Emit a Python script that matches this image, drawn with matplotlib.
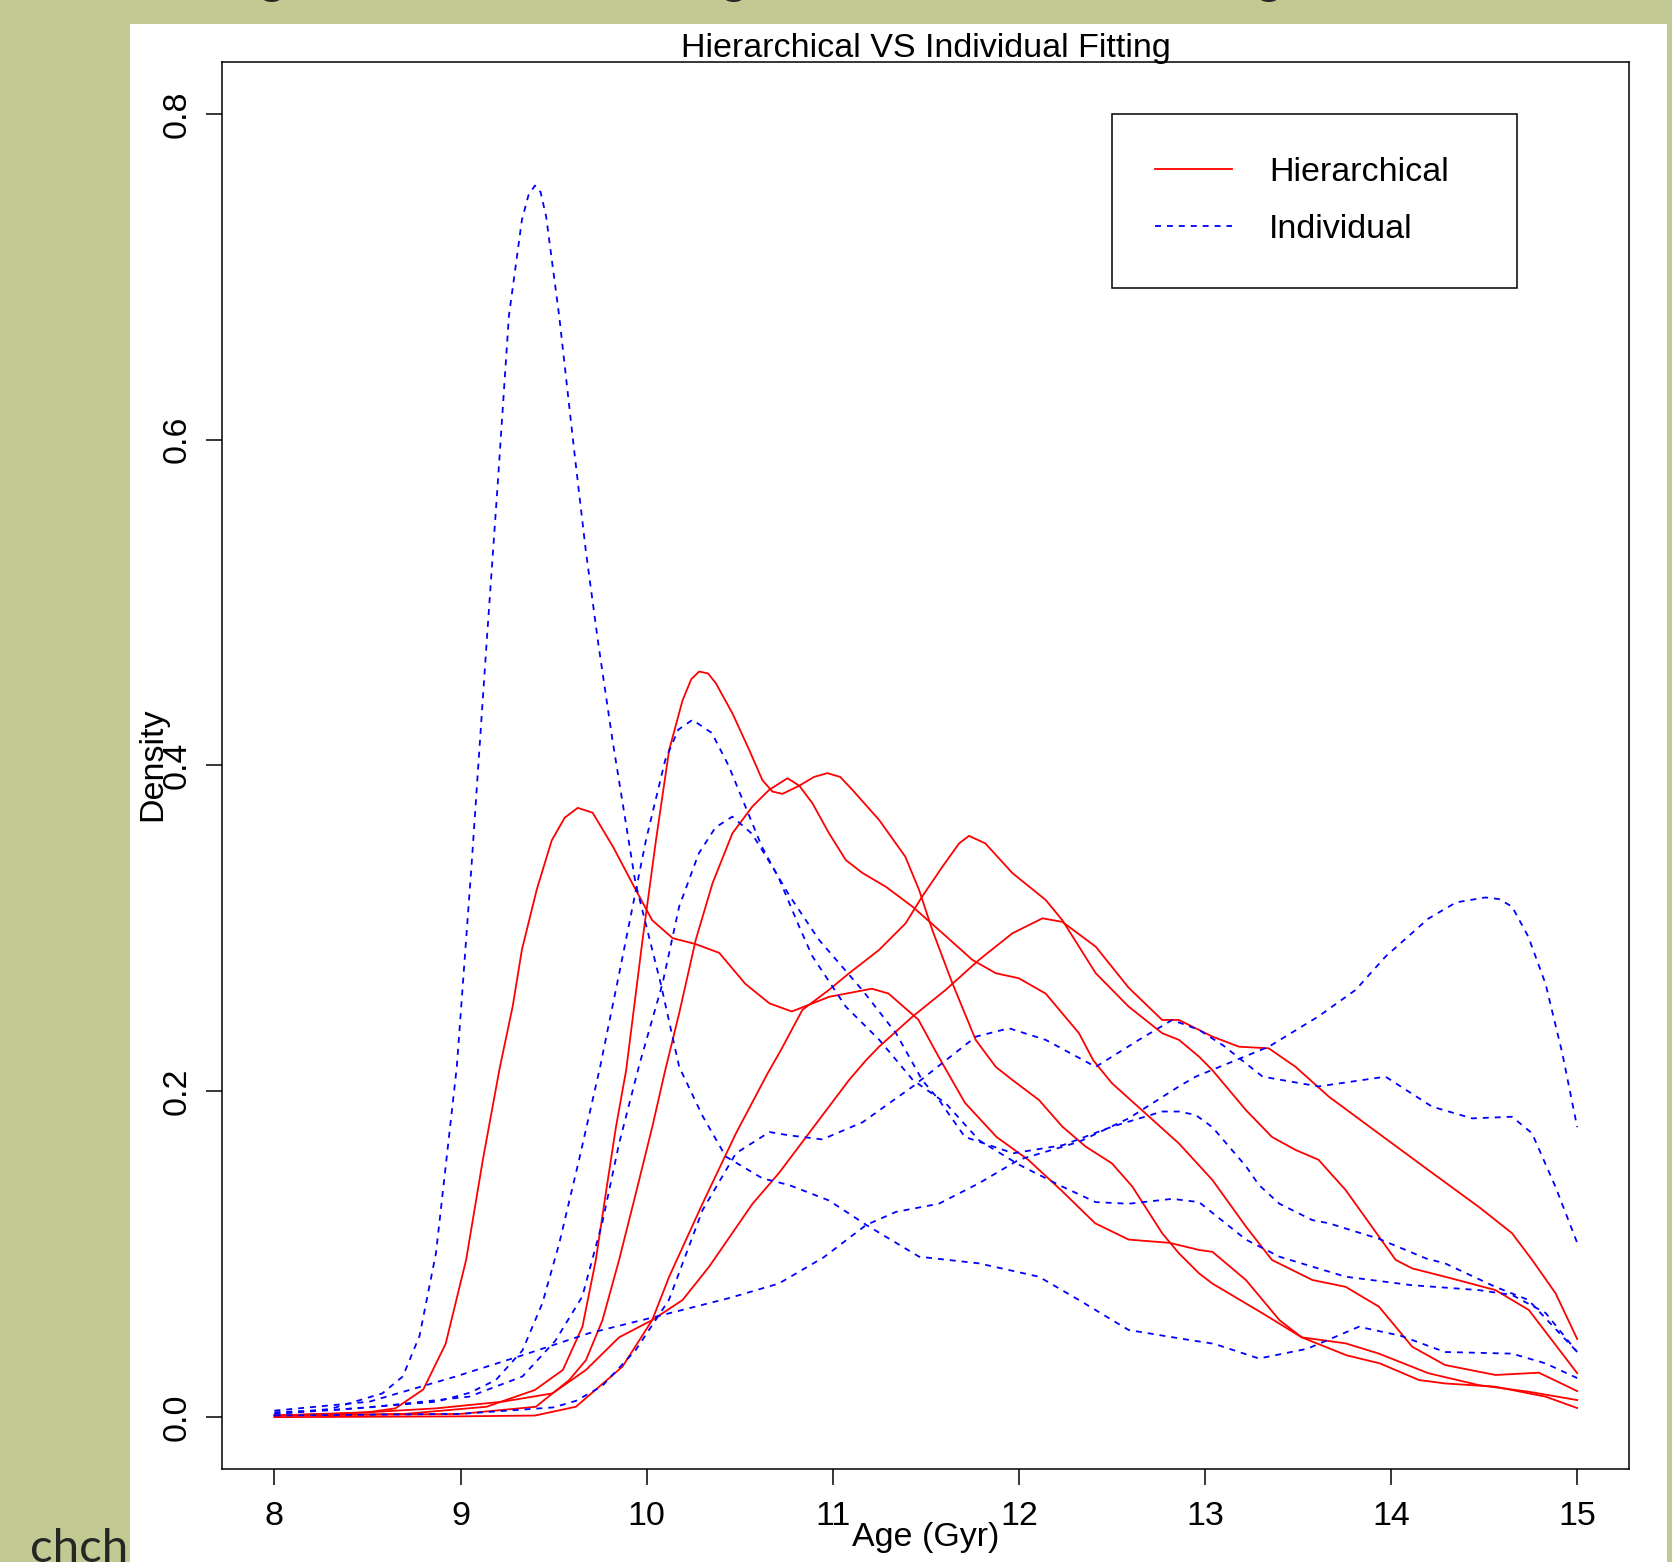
import matplotlib
matplotlib.use("Agg")
import matplotlib.pyplot as plt
from matplotlib.patches import Rectangle
from matplotlib.lines import Line2D

plt.rcParams["font.family"] = ["Liberation Sans", "DejaVu Sans"]

# Hierarchical fits (solid red)
h1_x = [8.0, 8.33, 8.5, 8.65, 8.8, 8.92, 9.03, 9.12, 9.21, 9.28, 9.33, 9.41, 9.49, 9.56, 9.63, 9.71, 9.82, 9.94,
        10.03, 10.14, 10.26, 10.39, 10.53, 10.66, 10.78, 10.98, 11.21, 11.30, 11.46, 11.57, 11.71, 11.88, 12.05,
        12.23, 12.41, 12.59, 12.81, 12.97, 13.04, 13.22, 13.40, 13.52, 13.76, 13.94, 14.15, 14.29, 14.56, 14.83, 15.0]
h1_y = [0.001, 0.002, 0.003, 0.0054, 0.017, 0.045, 0.0965, 0.158, 0.214, 0.252, 0.287, 0.324, 0.354, 0.368, 0.374,
        0.371, 0.350, 0.324, 0.305, 0.294, 0.2905, 0.285, 0.266, 0.254, 0.249, 0.258, 0.263, 0.260, 0.244, 0.221,
        0.193, 0.172, 0.158, 0.139, 0.119, 0.109, 0.107, 0.1026, 0.1015, 0.0842, 0.0596, 0.049, 0.038, 0.033,
        0.0228, 0.0207, 0.0187, 0.0126, 0.0056]

h2_x = [8.0, 8.7, 9.14, 9.40, 9.55, 9.655, 9.727, 9.78, 9.835, 9.89, 9.978, 10.05, 10.121, 10.193, 10.24, 10.282,
        10.33, 10.372, 10.461, 10.551, 10.622, 10.676, 10.73, 10.82, 10.90, 10.971, 11.04, 11.106, 11.249, 11.39,
        11.464, 11.535, 11.643, 11.768, 11.876, 11.965, 12.108, 12.234, 12.36, 12.50, 12.61, 12.77, 12.86, 12.968,
        13.04, 13.31, 13.52, 13.756, 13.935, 14.20, 14.47, 14.74, 15.0]
h2_y = [0.001, 0.002, 0.0064, 0.0167, 0.029, 0.0555, 0.0965, 0.137, 0.178, 0.213, 0.293, 0.354, 0.4095, 0.440,
        0.453, 0.4577, 0.4565, 0.4505, 0.432, 0.4096, 0.391, 0.384, 0.3826, 0.3876, 0.393, 0.3953, 0.393, 0.385,
        0.3666, 0.344, 0.3236, 0.299, 0.2663, 0.2316, 0.215, 0.207, 0.1947, 0.1783, 0.166, 0.1558, 0.1415, 0.1129,
        0.1006, 0.0883, 0.082, 0.0637, 0.049, 0.0453, 0.039, 0.027, 0.0197, 0.0156, 0.0105]

h3_x = [8.0, 9.0, 9.405, 9.584, 9.674, 9.763, 9.852, 9.942, 10.03, 10.10, 10.175, 10.264, 10.354, 10.461, 10.568,
        10.658, 10.757, 10.82, 10.891, 10.98, 11.07, 11.16, 11.285, 11.428, 11.571, 11.75, 11.876, 12.0, 12.144,
        12.323, 12.40, 12.50, 12.68, 12.86, 13.04, 13.22, 13.36, 13.577, 13.756, 13.935, 14.114, 14.29, 14.561,
        14.794, 15.0]
h3_y = [0.001, 0.002, 0.0064, 0.0228, 0.035, 0.0596, 0.0965, 0.1374, 0.178, 0.213, 0.248, 0.293, 0.3277, 0.3584,
        0.3748, 0.385, 0.3922, 0.3876, 0.3768, 0.3584, 0.342, 0.334, 0.3256, 0.3134, 0.299, 0.2807, 0.2725, 0.2694,
        0.260, 0.2357, 0.219, 0.205, 0.1865, 0.168, 0.1456, 0.117, 0.0965, 0.0842, 0.080, 0.0678, 0.0432, 0.032,
        0.0259, 0.0273, 0.016]

h4_x = [8.0, 9.0, 9.4, 9.62, 9.87, 10.03, 10.121, 10.30, 10.479, 10.65, 10.72, 10.837, 10.98, 11.088, 11.249,
        11.392, 11.48, 11.59, 11.679, 11.732, 11.82, 11.965, 12.144, 12.234, 12.413, 12.59, 12.77, 12.86, 12.968,
        13.04, 13.22, 13.36, 13.487, 13.61, 13.756, 13.935, 14.025, 14.114, 14.29, 14.561, 14.74, 15.0]
h4_y = [0.0, 0.0005, 0.001, 0.0064, 0.031, 0.0596, 0.0862, 0.131, 0.174, 0.211, 0.225, 0.25, 0.2623, 0.2725,
        0.2868, 0.3032, 0.3195, 0.338, 0.3522, 0.3568, 0.3522, 0.334, 0.3175, 0.305, 0.2725, 0.252, 0.2357, 0.2316,
        0.2213, 0.213, 0.1885, 0.172, 0.164, 0.158, 0.1394, 0.1108, 0.0965, 0.0913, 0.0862, 0.078, 0.0658, 0.027]

h5_x = [8.0, 8.5, 8.868, 9.226, 9.494, 9.674, 9.852, 10.03, 10.193, 10.336, 10.569, 10.712, 10.89, 11.088, 11.178,
        11.249, 11.428, 11.607, 11.786, 11.965, 12.127, 12.234, 12.413, 12.59, 12.77, 12.86, 12.968, 13.04, 13.183,
        13.343, 13.487, 13.666, 13.935, 14.20, 14.472, 14.65, 14.758, 14.884, 15.0]
h5_y = [0.001, 0.003, 0.0054, 0.0095, 0.0146, 0.029, 0.049, 0.0596, 0.0719, 0.0924, 0.131, 0.150, 0.177, 0.207,
        0.219, 0.2274, 0.2458, 0.2623, 0.2807, 0.297, 0.3062, 0.304, 0.2888, 0.2636, 0.2438, 0.2438, 0.2377, 0.2336,
        0.2274, 0.2264, 0.215, 0.1967, 0.174, 0.1517, 0.129, 0.1129, 0.0965, 0.076, 0.048]

# Individual fits (dashed blue)
i1_x = [8.0, 8.3, 8.58, 8.69, 8.78, 8.868, 8.98, 9.06, 9.14, 9.2, 9.26, 9.33, 9.365, 9.40, 9.43, 9.46, 9.53, 9.61,
        9.673, 9.74, 9.816, 9.94, 10.076, 10.175, 10.30, 10.425, 10.622, 10.765, 10.98, 11.18, 11.464, 11.786,
        12.108, 12.323, 12.59, 12.86, 13.05, 13.29, 13.55, 13.827, 14.05, 14.29, 14.65, 14.83, 15.0]
i1_y = [0.002, 0.005, 0.0146, 0.025, 0.05, 0.1006, 0.215, 0.34, 0.475, 0.573, 0.676, 0.735, 0.750, 0.756, 0.752,
        0.737, 0.676, 0.594, 0.532, 0.475, 0.416, 0.328, 0.266, 0.215, 0.185, 0.160, 0.1466, 0.1425, 0.133, 0.118,
        0.0985, 0.0944, 0.0862, 0.0719, 0.0535, 0.0484, 0.045, 0.036, 0.042, 0.0555, 0.050, 0.040, 0.039, 0.033,
        0.024]

i2_x = [8.0, 8.33, 8.6, 8.87, 9.05, 9.19, 9.333, 9.44, 9.53, 9.637, 9.75, 9.852, 9.924, 9.996, 10.10, 10.17,
        10.246, 10.35, 10.44, 10.53, 10.62, 10.71, 10.82, 10.89, 11.07, 11.25, 11.43, 11.607, 11.786, 12.0, 12.234,
        12.413, 12.59, 12.824, 12.968, 13.22, 13.40, 13.756, 14.113, 14.47, 14.65, 14.83, 15.0]
i2_y = [0.003, 0.0045, 0.007, 0.0095, 0.015, 0.0228, 0.041, 0.07, 0.1065, 0.158, 0.215, 0.272, 0.313, 0.354,
        0.4034, 0.422, 0.428, 0.42, 0.40, 0.375, 0.35, 0.331, 0.301, 0.283, 0.252, 0.2316, 0.207, 0.1927, 0.170,
        0.155, 0.1415, 0.132, 0.131, 0.134, 0.132, 0.109, 0.0985, 0.0862, 0.081, 0.078, 0.075, 0.064, 0.040]

i3_x = [8.0, 8.51, 9.047, 9.333, 9.51, 9.654, 9.763, 9.852, 9.96, 10.085, 10.175, 10.28, 10.37, 10.46, 10.567,
        10.675, 10.765, 10.926, 11.16, 11.34, 11.48, 11.571, 11.71, 11.97, 12.238, 12.50, 12.77, 12.86, 12.95, 13.04,
        13.22, 13.29, 13.40, 13.576, 13.666, 13.934, 14.186, 14.29, 14.56, 14.737, 15.0]
i3_y = [0.002, 0.006, 0.0126, 0.025, 0.047, 0.074, 0.12, 0.168, 0.216, 0.266, 0.3135, 0.346, 0.362, 0.3686, 0.358,
        0.338, 0.3205, 0.293, 0.262, 0.2357, 0.207, 0.1947, 0.172, 0.162, 0.167, 0.1783, 0.1876, 0.1876, 0.1855,
        0.178, 0.154, 0.1425, 0.131, 0.121, 0.119, 0.1095, 0.0975, 0.0944, 0.080, 0.072, 0.040]

i4_x = [8.0, 8.51, 8.975, 9.333, 9.69, 10.05, 10.44, 10.71, 10.95, 11.18, 11.34, 11.57, 11.786, 12.0, 12.323,
        12.59, 12.86, 12.95, 13.343, 13.61, 13.81, 13.97, 14.20, 14.35, 14.507, 14.58, 14.65, 14.737, 14.83, 14.92,
        15.0]
i4_y = [0.004, 0.0095, 0.025, 0.038, 0.0515, 0.0617, 0.073, 0.082, 0.098, 0.118, 0.126, 0.131, 0.1436, 0.158,
        0.169, 0.1834, 0.203, 0.209, 0.2274, 0.246, 0.2623, 0.2827, 0.306, 0.316, 0.319, 0.318, 0.3134, 0.295, 0.266,
        0.2234, 0.178]

i5_x = [8.0, 9.0, 9.5, 9.62, 9.76, 9.94, 10.12, 10.30, 10.48, 10.66, 10.765, 10.944, 11.16, 11.43, 11.607, 11.77,
        11.947, 12.144, 12.413, 12.645, 12.824, 12.968, 13.1, 13.31, 13.61, 13.97, 14.22, 14.436, 14.65, 14.757,
        14.883, 15.0]
i5_y = [0.001, 0.002, 0.006, 0.01, 0.019, 0.041, 0.072, 0.127, 0.162, 0.175, 0.173, 0.1705, 0.181, 0.203, 0.219,
        0.2336, 0.2387, 0.2316, 0.215, 0.2316, 0.2438, 0.2377, 0.228, 0.209, 0.203, 0.209, 0.1906, 0.1834, 0.1844,
        0.1743, 0.1415, 0.107]

hier_curves = [(h1_x, h1_y), (h2_x, h2_y), (h3_x, h3_y), (h4_x, h4_y), (h5_x, h5_y)]
indiv_curves = [(i1_x, i1_y), (i2_x, i2_y), (i3_x, i3_y), (i4_x, i4_y), (i5_x, i5_y)]

x_ticks = [8, 9, 10, 11, 12, 13, 14, 15]
y_ticks = [0.0, 0.2, 0.4, 0.6, 0.8]
y_tick_labels = ["0.0", "0.2", "0.4", "0.6", "0.8"]

W, H = 1672, 1562
FS = 24.5
fig = plt.figure(figsize=(W / 100, H / 100), dpi=100, facecolor="#c3c993")

# white slide panel holding the R plot (drawn under the axes)
fig.patches.append(Rectangle((130 / W, 0), (1667 - 130) / W, 1 - 24 / H, transform=fig.transFigure,
                             facecolor="white", edgecolor="none", zorder=-5))

ax = fig.add_axes([222.3 / W, 1 - 1469.3 / H, (1629.3 - 222.3) / W, (1469.3 - 61.7) / H])
ax.set_zorder(2)
for xs, ys in hier_curves:
    ax.plot(xs, ys, color="#ff0000", lw=1.3)
for xs, ys in indiv_curves:
    ax.plot(xs, ys, color="#0000ff", lw=1.3, dashes=(3.3, 3.3))

ax.set_xlim(7.72, 15.28)
ax.set_ylim(-0.032, 0.832)
ax.set_xticks(x_ticks)
ax.set_xticklabels([str(t) for t in x_ticks])
ax.set_yticks(y_ticks)
ax.set_yticklabels(y_tick_labels, rotation=90, va="center")
ax.tick_params(length=11.5, width=1.1, labelsize=FS, color="black")
ax.tick_params(axis="x", pad=11)
ax.tick_params(axis="y", pad=10)
for s in ax.spines.values():
    s.set_linewidth(1.1)

ax.set_xlabel("Age (Gyr)", fontsize=FS, va="baseline")
ax.xaxis.set_label_coords(0.5, -0.0545)
ax.set_ylabel("Density", fontsize=FS, ha="center", va="baseline")
ax.yaxis.set_label_coords(-0.0431, 0.501)

fig.text(925.8 / W, 1 - 57 / H, "Hierarchical VS Individual Fitting", fontsize=FS, ha="center", va="baseline")

handles = [Line2D([], [], color="#ff0000", lw=1.3),
           Line2D([], [], color="#0000ff", lw=1.3, dashes=(3.3, 3.3))]
leg = ax.legend(handles, ["Hierarchical", "Individual"], loc="upper left",
                bbox_to_anchor=(1112.3 / W, 1 - 285.3 / H, 404.4 / W, 171.3 / H),
                bbox_transform=fig.transFigure, mode="expand", borderaxespad=0, borderpad=1.25,
                handlelength=2.26, handletextpad=1.1, labelspacing=0.78, fontsize=FS,
                fancybox=False, framealpha=1, edgecolor="black")
leg.get_frame().set_linewidth(1.1)

# slide text around the picture
fig.text(30 / W, 0, "chch", fontsize=34, family=["Lato", "DejaVu Sans"], color="#262626",
         ha="left", va="baseline")
for gx in [272, 734, 1269]:
    fig.text(gx / W, 1 + 6.5 / H, "g", fontsize=34, family=["Lato", "DejaVu Sans"], color="#262626",
             ha="center", va="baseline")

fig.savefig("out.png", dpi=100, facecolor=fig.get_facecolor())
